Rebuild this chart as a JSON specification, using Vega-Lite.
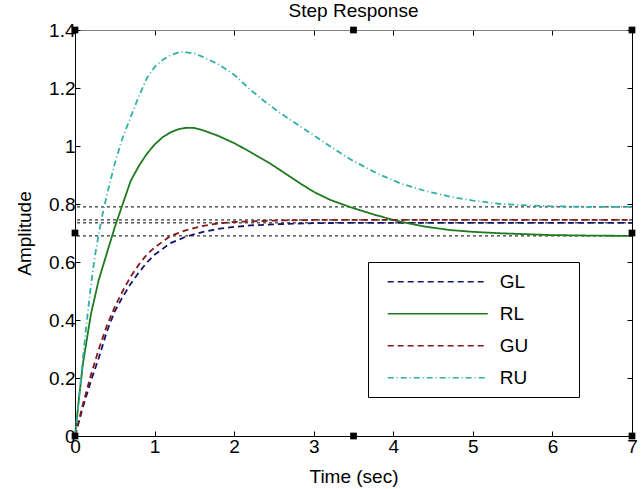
{
  "$schema": "https://vega.github.io/schema/vega-lite/v6.json",
  "autosize": "none",
  "width": 557,
  "height": 406,
  "padding": {"left": 75, "top": 30, "right": 10, "bottom": 53},
  "background": "white",
  "config": {"font": "Liberation Sans", "view": {"stroke": null}, "axis": {"grid": false}},
  "title": {"text": "Step Response", "fontSize": 19, "fontWeight": "normal", "font": "Liberation Sans", "anchor": "middle", "baseline": "alphabetic", "offset": -15, "color": "black"},
  "datasets": {
    "refs": [{"v": 0.79}, {"v": 0.745}, {"v": 0.735}, {"v": 0.69}],
    "handles": [
      {"t": 0, "y": 0}, {"t": 3.5, "y": 0}, {"t": 7, "y": 0},
      {"t": 0, "y": 0.7}, {"t": 7, "y": 0.7},
      {"t": 0, "y": 1.4}, {"t": 3.5, "y": 1.4}, {"t": 7, "y": 1.4}
    ],
    "curves": [
      {"series": "GL", "t": 0, "y": 0}, {"series": "GL", "t": 0.1, "y": 0.1}, {"series": "GL", "t": 0.2, "y": 0.19}, {"series": "GL", "t": 0.3, "y": 0.27},
      {"series": "GL", "t": 0.4, "y": 0.36}, {"series": "GL", "t": 0.5, "y": 0.43}, {"series": "GL", "t": 0.6, "y": 0.48}, {"series": "GL", "t": 0.7, "y": 0.525},
      {"series": "GL", "t": 0.8, "y": 0.563}, {"series": "GL", "t": 0.9, "y": 0.597}, {"series": "GL", "t": 1.0, "y": 0.625}, {"series": "GL", "t": 1.2, "y": 0.665},
      {"series": "GL", "t": 1.4, "y": 0.688}, {"series": "GL", "t": 1.6, "y": 0.703}, {"series": "GL", "t": 1.8, "y": 0.714}, {"series": "GL", "t": 2.0, "y": 0.721},
      {"series": "GL", "t": 2.2, "y": 0.726}, {"series": "GL", "t": 2.5, "y": 0.73}, {"series": "GL", "t": 3.0, "y": 0.734}, {"series": "GL", "t": 3.5, "y": 0.735},
      {"series": "GL", "t": 7, "y": 0.735},
      {"series": "RL", "t": 0, "y": 0}, {"series": "RL", "t": 0.05, "y": 0.13}, {"series": "RL", "t": 0.1, "y": 0.25}, {"series": "RL", "t": 0.2, "y": 0.42},
      {"series": "RL", "t": 0.3, "y": 0.54}, {"series": "RL", "t": 0.4, "y": 0.63}, {"series": "RL", "t": 0.5, "y": 0.72}, {"series": "RL", "t": 0.6, "y": 0.8},
      {"series": "RL", "t": 0.7, "y": 0.88}, {"series": "RL", "t": 0.8, "y": 0.93}, {"series": "RL", "t": 0.9, "y": 0.972}, {"series": "RL", "t": 1.0, "y": 1.005},
      {"series": "RL", "t": 1.1, "y": 1.03}, {"series": "RL", "t": 1.2, "y": 1.047}, {"series": "RL", "t": 1.3, "y": 1.058}, {"series": "RL", "t": 1.4, "y": 1.063},
      {"series": "RL", "t": 1.5, "y": 1.062}, {"series": "RL", "t": 1.6, "y": 1.055}, {"series": "RL", "t": 1.8, "y": 1.035}, {"series": "RL", "t": 2.0, "y": 1.01},
      {"series": "RL", "t": 2.2, "y": 0.98}, {"series": "RL", "t": 2.45, "y": 0.94}, {"series": "RL", "t": 2.6, "y": 0.913}, {"series": "RL", "t": 2.83, "y": 0.871},
      {"series": "RL", "t": 3.0, "y": 0.842}, {"series": "RL", "t": 3.2, "y": 0.815}, {"series": "RL", "t": 3.46, "y": 0.789}, {"series": "RL", "t": 3.8, "y": 0.76},
      {"series": "RL", "t": 4.09, "y": 0.739}, {"series": "RL", "t": 4.4, "y": 0.722}, {"series": "RL", "t": 4.72, "y": 0.71}, {"series": "RL", "t": 5.0, "y": 0.704},
      {"series": "RL", "t": 5.35, "y": 0.699}, {"series": "RL", "t": 5.97, "y": 0.693}, {"series": "RL", "t": 6.5, "y": 0.691}, {"series": "RL", "t": 7, "y": 0.69},
      {"series": "GU", "t": 0, "y": 0}, {"series": "GU", "t": 0.1, "y": 0.11}, {"series": "GU", "t": 0.2, "y": 0.21}, {"series": "GU", "t": 0.3, "y": 0.3},
      {"series": "GU", "t": 0.4, "y": 0.38}, {"series": "GU", "t": 0.5, "y": 0.445}, {"series": "GU", "t": 0.6, "y": 0.5}, {"series": "GU", "t": 0.7, "y": 0.55},
      {"series": "GU", "t": 0.8, "y": 0.59}, {"series": "GU", "t": 0.9, "y": 0.625}, {"series": "GU", "t": 1.0, "y": 0.65}, {"series": "GU", "t": 1.2, "y": 0.69},
      {"series": "GU", "t": 1.4, "y": 0.71}, {"series": "GU", "t": 1.6, "y": 0.724}, {"series": "GU", "t": 1.8, "y": 0.733}, {"series": "GU", "t": 2.0, "y": 0.738},
      {"series": "GU", "t": 2.5, "y": 0.743}, {"series": "GU", "t": 3.0, "y": 0.745}, {"series": "GU", "t": 7, "y": 0.745},
      {"series": "RU", "t": 0, "y": 0}, {"series": "RU", "t": 0.05, "y": 0.13}, {"series": "RU", "t": 0.1, "y": 0.27}, {"series": "RU", "t": 0.15, "y": 0.4},
      {"series": "RU", "t": 0.2, "y": 0.52}, {"series": "RU", "t": 0.25, "y": 0.62}, {"series": "RU", "t": 0.3, "y": 0.7}, {"series": "RU", "t": 0.35, "y": 0.77},
      {"series": "RU", "t": 0.4, "y": 0.83}, {"series": "RU", "t": 0.5, "y": 0.94}, {"series": "RU", "t": 0.6, "y": 1.03}, {"series": "RU", "t": 0.7, "y": 1.1},
      {"series": "RU", "t": 0.8, "y": 1.17}, {"series": "RU", "t": 0.9, "y": 1.232}, {"series": "RU", "t": 1.0, "y": 1.272}, {"series": "RU", "t": 1.1, "y": 1.297},
      {"series": "RU", "t": 1.2, "y": 1.313}, {"series": "RU", "t": 1.3, "y": 1.323}, {"series": "RU", "t": 1.36, "y": 1.325}, {"series": "RU", "t": 1.5, "y": 1.319},
      {"series": "RU", "t": 1.6, "y": 1.308}, {"series": "RU", "t": 1.8, "y": 1.282}, {"series": "RU", "t": 2.0, "y": 1.246}, {"series": "RU", "t": 2.2, "y": 1.195},
      {"series": "RU", "t": 2.4, "y": 1.15}, {"series": "RU", "t": 2.6, "y": 1.11}, {"series": "RU", "t": 2.8, "y": 1.073}, {"series": "RU", "t": 3.0, "y": 1.037},
      {"series": "RU", "t": 3.2, "y": 1.0}, {"series": "RU", "t": 3.46, "y": 0.954}, {"series": "RU", "t": 3.8, "y": 0.905}, {"series": "RU", "t": 4.09, "y": 0.871},
      {"series": "RU", "t": 4.4, "y": 0.845}, {"series": "RU", "t": 4.72, "y": 0.825}, {"series": "RU", "t": 5.0, "y": 0.812}, {"series": "RU", "t": 5.35, "y": 0.8},
      {"series": "RU", "t": 5.7, "y": 0.795}, {"series": "RU", "t": 6.0, "y": 0.792}, {"series": "RU", "t": 6.5, "y": 0.79}, {"series": "RU", "t": 7, "y": 0.79}
    ]
  },
  "resolve": {"axis": {"x": "independent", "y": "independent"}},
  "layer": [
    {
      "data": {"name": "refs"},
      "mark": {"type": "rule", "strokeDash": [3, 3], "color": "black", "strokeWidth": 1},
      "encoding": {
        "y": {"field": "v", "type": "quantitative", "scale": {"domain": [0, 1.4], "nice": false, "zero": false}, "axis": null}
      }
    },
    {
      "data": {"name": "curves"},
      "mark": {"type": "line", "strokeWidth": 1.8},
      "encoding": {
        "x": {"field": "t", "type": "quantitative", "scale": {"domain": [0, 7], "nice": false},
          "axis": {"orient": "bottom", "values": [0, 1, 2, 3, 4, 5, 6, 7], "tickSize": -5, "labelPadding": 6, "labelFontSize": 19, "labelFont": "Liberation Sans", "labelColor": "black", "labelFlush": false, "labelOverlap": false, "title": "Time (sec)", "titleFontSize": 19, "titleFont": "Liberation Sans", "titleFontWeight": "normal", "titleColor": "black", "titlePadding": 11, "domainColor": "black", "tickColor": "black"}},
        "y": {"field": "y", "type": "quantitative", "scale": {"domain": [0, 1.4], "nice": false, "zero": false},
          "axis": {"orient": "left", "values": [0, 0.2, 0.4, 0.6, 0.8, 1, 1.2, 1.4], "format": "~g", "tickSize": -5, "labelPadding": 5, "labelFontSize": 19, "labelFont": "Liberation Sans", "labelColor": "black", "labelFlush": false, "labelOverlap": false, "title": "Amplitude", "titleFontSize": 19, "titleFont": "Liberation Sans", "titleFontWeight": "normal", "titleColor": "black", "titlePadding": 14, "domainColor": "black", "tickColor": "black"}},
        "color": {"field": "series", "type": "nominal",
          "scale": {"domain": ["GL", "RL", "GU", "RU"], "range": ["#14146e", "#1e7a1e", "#861818", "#2fb0a6"]},
          "legend": {"title": null, "orient": "none", "legendX": 293, "legendY": 232, "symbolType": "M0,0H10", "symbolSize": 400, "symbolStrokeWidth": 1.5, "labelFontSize": 19, "labelFont": "Liberation Sans", "labelColor": "black", "labelOffset": 101, "rowPadding": 11, "padding": 8.7, "strokeColor": "black", "fillColor": "white", "labelExpr": "datum.label + '\u2800\u2800\u2800'"}},
        "strokeDash": {"field": "series", "type": "nominal",
          "scale": {"domain": ["GL", "RL", "GU", "RU"], "range": [[6, 4], [1, 0], [6, 4], [6, 3, 1, 3]]},
          "legend": {"title": null, "orient": "none", "legendX": 293, "legendY": 232, "symbolType": "M0,0H10", "symbolSize": 400, "symbolStrokeWidth": 1.5, "labelFontSize": 19, "labelFont": "Liberation Sans", "labelColor": "black", "labelOffset": 101, "rowPadding": 11, "padding": 8.7, "strokeColor": "black", "fillColor": "white", "labelExpr": "datum.label + '\u2800\u2800\u2800'"}}
      }
    },
    {
      "data": {"name": "handles"},
      "mark": {"type": "point", "shape": "square", "filled": true, "color": "black", "size": 45, "opacity": 1},
      "encoding": {
        "x": {"field": "t", "type": "quantitative", "scale": {"domain": [0, 7], "nice": false},
          "axis": {"orient": "top", "values": [0, 1, 2, 3, 4, 5, 6, 7], "labels": false, "title": null, "tickSize": -5, "domainColor": "#808080", "tickColor": "black"}},
        "y": {"field": "y", "type": "quantitative", "scale": {"domain": [0, 1.4], "nice": false, "zero": false},
          "axis": {"orient": "right", "values": [0, 0.2, 0.4, 0.6, 0.8, 1, 1.2, 1.4], "labels": false, "title": null, "tickSize": -5, "domainColor": "black", "tickColor": "black"}}
      }
    }
  ]
}
